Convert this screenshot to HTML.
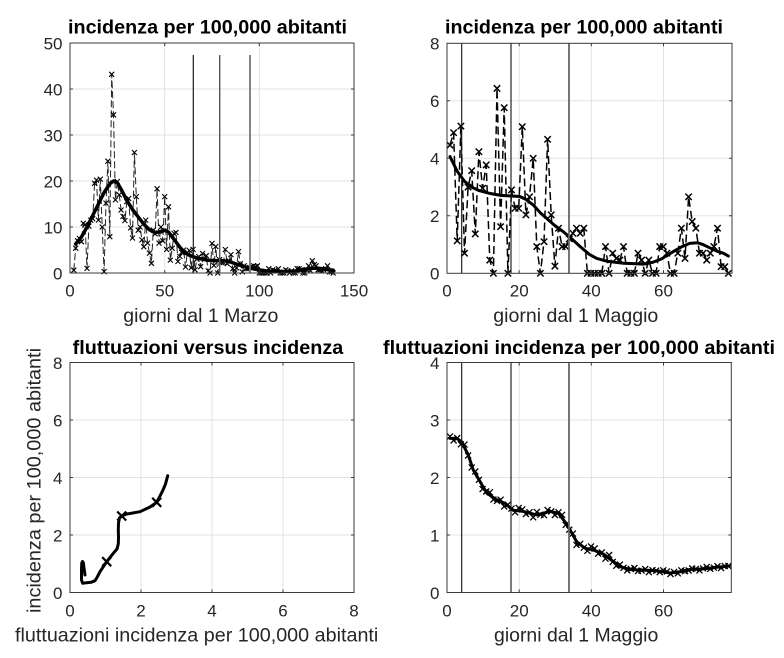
<!DOCTYPE html>
<html><head><meta charset="utf-8"><style>
html,body{margin:0;padding:0;background:#fff;}
svg{display:block;}
text{font-family:"Liberation Sans",Arial,Helvetica,sans-serif;}
.tk{font-size:17px;fill:#262626;}
.lb{font-size:19.5px;fill:#262626;}
.tt{font-size:19.5px;font-weight:bold;fill:#000;}
</style></head><body>
<svg width="784" height="658" viewBox="0 0 784 658" xmlns="http://www.w3.org/2000/svg">
<defs>
<marker id="m1" markerUnits="userSpaceOnUse" markerWidth="1" markerHeight="1" refX="0" refY="0" style="overflow:visible"><path d="M-2.5-2.5L2.5 2.5M-2.5 2.5L2.5-2.5" stroke="#000" stroke-width="1.1" fill="none" stroke-dasharray="none"/></marker>
<marker id="m2" markerUnits="userSpaceOnUse" markerWidth="1" markerHeight="1" refX="0" refY="0" style="overflow:visible"><path d="M-3.2-3.2L3.2 3.2M-3.2 3.2L3.2-3.2" stroke="#000" stroke-width="1.5" fill="none" stroke-dasharray="none"/></marker>
<marker id="m3" markerUnits="userSpaceOnUse" markerWidth="1" markerHeight="1" refX="0" refY="0" style="overflow:visible"><path d="M-3-3L3 3M-3 3L3-3" stroke="#000" stroke-width="1.3" fill="none" stroke-dasharray="none"/></marker>
</defs>
<rect width="784" height="658" fill="#fff"/>

<!-- ============ TOP LEFT ============ -->
<g stroke="#e3e3e3" stroke-width="1" fill="none">
<path d="M164.7,43V273M259.3,43V273M70,227H354M70,181H354M70,135H354M70,89H354"/>
</g>
<polyline fill="none" stroke="#222" stroke-width="1" stroke-dasharray="7 3" marker-start="url(#m1)" marker-mid="url(#m1)" marker-end="url(#m1)" points="73.8,270.2 75.7,248.2 77.6,240.8 79.5,238.5 81.4,241.7 83.3,223.3 85.1,224.7 87.0,268.4 88.9,226.1 90.8,220.1 92.7,218.7 94.6,183.3 96.5,180.1 98.4,220.1 100.3,179.2 102.2,227 104.1,271.6 106.0,203.1 107.9,161.2 109.8,236.7 111.7,74.3 113.5,114.8 115.4,199.9 117.3,181.5 119.2,194.8 121.1,210 123.0,216.4 124.9,220.6 126.8,201.7 128.7,198.5 130.6,227.9 132.5,238 134.4,152.5 136.3,196.6 138.2,230.2 140.1,227 141.9,239.9 143.8,246.8 145.7,220.1 147.6,243.1 149.5,253.2 151.4,263.3 153.3,230.2 155.2,233.9 157.1,188.8 159.0,243.1 160.9,227 162.8,240.8 164.7,196.6 166.6,249.5 168.5,206.8 170.3,260.1 172.2,248.2 174.1,233.4 176.0,232.5 177.9,261.5 179.8,256.4 181.7,252.3 183.6,250 185.5,267 187.4,252.5 189.3,250.5 191.2,267.8 193.1,249.4 195.0,269.8 196.9,259.2 198.8,256.6 200.6,266.7 202.5,253.5 204.4,259.4 206.3,255.7 208.2,270.9 210.1,273 212.0,243.4 213.9,265.5 215.8,246.5 217.7,273 219.6,259.7 221.5,262.6 223.4,262.6 225.3,249.5 227.2,263.7 229.0,260.8 230.9,254.6 232.8,268.7 234.7,273 236.6,267.9 238.5,251.6 240.4,263.7 242.3,271.9 244.2,265.8 246.1,268.7 248.0,268.7 249.9,267.5 251.8,266.6 253.7,265.8 255.6,266.6 257.4,265.8 259.3,273 261.2,273 263.1,273 265.0,273 266.9,273 268.8,268.7 270.7,273 272.6,269.8 274.5,270.6 276.4,270.9 278.3,268.7 280.2,273 282.1,273 283.9,273 285.8,269.8 287.7,270.9 289.6,273 291.5,270.9 293.4,273 295.3,273 297.2,268.7 299.1,268.7 301.0,269.8 302.9,273 304.8,273 306.7,269.8 308.6,265.8 310.5,270.6 312.3,260.8 314.2,264.7 316.1,265.8 318.0,269.8 319.9,269.8 321.8,270.9 323.7,269.8 325.6,268.7 327.5,265.8 329.4,271.9 331.3,271.9 333.2,273"/>
<polyline fill="none" stroke="#000" stroke-width="3.5" stroke-linejoin="round" stroke-linecap="round" points="75.7,244.0 81.4,237.1 87.0,227 92.7,215.5 98.4,204 104.1,192.5 109.8,183.8 113.5,181 117.3,182.8 121.1,189.3 126.8,200.3 132.5,209.5 138.2,216.9 143.8,224.2 149.5,229.8 155.2,232.5 160.9,231.6 164.7,230.2 168.5,232.1 174.1,239.4 179.8,247.2 185.5,253.2 191.2,256 197.8,258.3 208.2,260.2 216.9,260.6 223.9,260.7 230.9,262.1 237.7,264.5 246.6,267.2 255.4,269.3 264.3,270.6 269.6,271.2 278.3,271.4 288.7,271.5 295.3,270.9 304.2,269.5 312.9,268.2 317.1,268.1 323.3,268.9 330.5,269.8 333.2,270.2"/>
<line x1="193.3" y1="55" x2="193.3" y2="273" stroke="#1a1a1a" stroke-width="1.2"/>
<line x1="219.7" y1="55" x2="219.7" y2="273" stroke="#555" stroke-width="1.4"/>
<line x1="250" y1="55" x2="250" y2="273" stroke="#777" stroke-width="1.8"/>
<rect x="70" y="43" width="284" height="230" fill="none" stroke="#3a3a3a" stroke-width="1"/>
<path stroke="#3a3a3a" stroke-width="1" fill="none" d="M164.7,273v-3M259.3,273v-3M164.7,43v3M259.3,43v3M70,227h3M70,181h3M70,135h3M70,89h3M354,227h-3M354,181h-3M354,135h-3M354,89h-3"/>
<g class="tk" text-anchor="end">
<text x="62.5" y="279.3">0</text><text x="62.5" y="233.3">10</text><text x="62.5" y="187.3">20</text><text x="62.5" y="141.3">30</text><text x="62.5" y="95.3">40</text><text x="62.5" y="49.3">50</text>
</g>
<g class="tk" text-anchor="middle">
<text x="70" y="296.7">0</text><text x="164.7" y="296.7">50</text><text x="259.3" y="296.7">100</text><text x="354" y="296.7">150</text>
</g>
<text class="tt" x="68" y="33.3" textLength="279" lengthAdjust="spacingAndGlyphs">incidenza per 100,000 abitanti</text>
<text class="lb" x="123.3" y="322" textLength="155" lengthAdjust="spacingAndGlyphs">giorni dal 1 Marzo</text>

<!-- ============ TOP RIGHT ============ -->
<g stroke="#e3e3e3" stroke-width="1" fill="none">
<path d="M519.2,43.3V273.3M591.3,43.3V273.3M663.5,43.3V273.3M447,215.8H732M447,158.3H732M447,100.8H732"/>
</g>
<polyline fill="none" stroke="#000" stroke-width="1.5" stroke-dasharray="8 4" marker-start="url(#m2)" marker-mid="url(#m2)" marker-end="url(#m2)" points="450.0,145.1 453.6,132.7 457.2,240.8 460.9,126.1 464.5,253.2 468.1,187.1 471.7,170.7 475.3,233.9 478.9,151.7 482.6,188.2 486.2,164.9 489.8,260.1 493.4,273.3 497.0,88.4 500.6,226.7 504.2,107.7 507.9,273.3 511.5,189.9 515.1,208.3 518.7,208.3 522.3,126.7 525.9,214.9 529.5,196.8 533.2,158.3 536.8,246.6 540.4,273.3 544.0,241.7 547.6,139.3 551.2,214.9 554.9,266.1 558.5,228.2 562.1,246.6 565.7,246.6 569.3,238.8 572.9,233.3 576.5,228.2 580.2,233.3 583.8,228.2 587.4,273.3 591.0,273.3 594.6,273.3 598.2,273.3 601.8,273.3 605.5,246.6 609.1,273.3 612.7,253.2 616.3,258.4 619.9,260.1 623.5,246.6 627.2,273.3 630.8,273.3 634.4,273.3 638.0,253.2 641.6,260.1 645.2,273.3 648.8,260.1 652.5,273.3 656.1,273.3 659.7,246.6 663.3,246.6 666.9,253.2 670.5,273.3 674.1,273.3 677.8,253.2 681.4,228.2 685.0,258.4 688.6,196.8 692.2,221.5 695.8,228.2 699.5,253.2 703.1,253.2 706.7,260.1 710.3,253.2 713.9,246.6 717.5,228.2 721.1,266.7 724.8,266.7 728.4,273.3"/>
<polyline fill="none" stroke="#000" stroke-width="3" stroke-linejoin="round" stroke-linecap="round" points="450.0,156.6 457.2,171.2 464.5,181.3 471.7,187.1 478.9,190.5 489.8,193.4 500.6,195.4 511.5,196.0 519.8,196.5 525.9,199.4 533.2,204.9 540.4,212.9 547.6,219.2 554.9,225.6 563.2,231.6 572.9,239.9 580.2,246.6 589.2,254.3 596.8,258.4 606.9,261.2 623.5,263.2 643.4,264.1 652.5,262.4 661.5,258.9 673.1,251.7 681.4,246.9 689.7,243.4 697.6,242.8 703.1,244.6 709.6,247.7 717.5,251.4 723.3,253.2 728.4,256.1"/>
<line x1="461.7" y1="43.3" x2="461.7" y2="273.3" stroke="#111" stroke-width="1.1"/>
<line x1="511" y1="43.3" x2="511" y2="273.3" stroke="#111" stroke-width="1.1"/>
<line x1="569" y1="43.3" x2="569" y2="273.3" stroke="#666" stroke-width="1.8"/>
<rect x="447" y="43.3" width="285" height="230" fill="none" stroke="#3a3a3a" stroke-width="1"/>
<path stroke="#3a3a3a" stroke-width="1" fill="none" d="M519.2,273.3v-3M591.3,273.3v-3M663.5,273.3v-3M519.2,43.3v3M591.3,43.3v3M663.5,43.3v3M447,215.8h3M447,158.3h3M447,100.8h3M732,215.8h-3M732,158.3h-3M732,100.8h-3"/>
<g class="tk" text-anchor="end">
<text x="439.5" y="279.6">0</text><text x="439.5" y="222.1">2</text><text x="439.5" y="164.6">4</text><text x="439.5" y="107.1">6</text><text x="439.5" y="49.6">8</text>
</g>
<g class="tk" text-anchor="middle">
<text x="447" y="296.7">0</text><text x="519.2" y="296.7">20</text><text x="591.3" y="296.7">40</text><text x="663.5" y="296.7">60</text>
</g>
<text class="tt" x="445" y="33.3" textLength="278" lengthAdjust="spacingAndGlyphs">incidenza per 100,000 abitanti</text>
<text class="lb" x="493.3" y="322" textLength="165" lengthAdjust="spacingAndGlyphs">giorni dal 1 Maggio</text>

<!-- ============ BOTTOM LEFT ============ -->
<g stroke="#e3e3e3" stroke-width="1" fill="none">
<path d="M141,362.5V592.5M212,362.5V592.5M283,362.5V592.5M70,535H354M70,477.5H354M70,420H354"/>
</g>
<polyline fill="none" stroke="#000" stroke-width="3" stroke-linejoin="round" stroke-linecap="round" points="167.7,475.7 165.5,484 163,490 159.5,497 156.7,502.3 150,507 140,511.7 130,513.5 126.7,514 121.7,516 119.5,518 118.5,523 118.3,530 118.5,537 118.3,544 117,549 113.3,553.3 106.7,561.7 100,571.7 97,577.5 95,580.7 91,582.3 86.7,582.7 82.7,583.3 81.5,580 81.5,570 81.7,563.3 82.5,561.5 83.3,562.5 84,568 85,575"/>
<path stroke="#000" stroke-width="2.2" fill="none" d="M152.2,497.8l9,9M152.2,506.8l9,-9M117.2,511.5l9,9M117.2,520.5l9,-9M102.2,557.2l9,9M102.2,566.2l9,-9"/>
<rect x="70" y="362.5" width="284" height="230" fill="none" stroke="#3a3a3a" stroke-width="1"/>
<path stroke="#3a3a3a" stroke-width="1" fill="none" d="M141,592.5v-3M212,592.5v-3M283,592.5v-3M141,362.5v3M212,362.5v3M283,362.5v3M70,535h3M70,477.5h3M70,420h3M354,535h-3M354,477.5h-3M354,420h-3"/>
<g class="tk" text-anchor="end">
<text x="62.5" y="598.8">0</text><text x="62.5" y="541.3">2</text><text x="62.5" y="483.8">4</text><text x="62.5" y="426.3">6</text><text x="62.5" y="368.8">8</text>
</g>
<g class="tk" text-anchor="middle">
<text x="70" y="616.5">0</text><text x="141" y="616.5">2</text><text x="212" y="616.5">4</text><text x="283" y="616.5">6</text><text x="354" y="616.5">8</text>
</g>
<text class="tt" x="72.7" y="354" textLength="270.6" lengthAdjust="spacingAndGlyphs">fluttuazioni versus incidenza</text>
<text class="lb" x="15" y="641.5" textLength="363.3" lengthAdjust="spacingAndGlyphs">fluttuazioni incidenza per 100,000 abitanti</text>
<text class="lb" transform="translate(40.5,613) rotate(-90)" x="0" y="0" textLength="265" lengthAdjust="spacingAndGlyphs">incidenza per 100,000 abitanti</text>

<!-- ============ BOTTOM RIGHT ============ -->
<g stroke="#e3e3e3" stroke-width="1" fill="none">
<path d="M519.2,362.5V592.5M591.3,362.5V592.5M663.5,362.5V592.5M447,535H731.5M447,477.5H731.5M447,420H731.5"/>
</g>
<polyline fill="none" stroke="#000" stroke-width="1" marker-start="url(#m3)" marker-mid="url(#m3)" marker-end="url(#m3)" points="450.0,436.4 453.6,440.4 457.2,438.0 460.9,444.3 464.5,444.6 468.1,455.5 471.7,467.4 475.3,471.5 478.9,479.8 482.6,489.1 486.2,491.5 489.8,492.3 493.4,499.6 497.0,500.9 500.6,499.7 504.2,506.4 507.9,504.7 511.5,508.6 515.1,512.3 518.7,507.9 522.3,509.4 525.9,514.0 529.5,512.2 533.2,517.3 536.8,511.9 540.4,514.7 544.0,515.2 547.6,510.0 551.2,511.4 554.9,515.0 558.5,512.2 562.1,514.8 565.7,524.9 569.3,529.7 572.9,533.6 576.5,544.9 580.2,543.8 583.8,547.7 587.4,550.8 591.0,546.4 594.6,548.5 598.2,553.7 601.8,552.4 605.5,558.7 609.1,555.0 612.7,561.9 616.3,565.8 619.9,564.6 623.5,567.8 627.2,570.4 630.8,569.0 634.4,568.0 638.0,571.1 641.6,570.6 645.2,569.1 648.8,572.2 652.5,570.2 656.1,570.7 659.7,572.2 663.3,570.3 666.9,571.4 670.5,574.0 674.1,571.9 677.8,573.3 681.4,570.3 685.0,571.2 688.6,570.5 692.2,568.5 695.8,568.9 699.5,570.4 703.1,568.4 706.7,566.9 710.3,568.8 713.9,567.7 717.5,566.2 721.1,568.1 724.8,566.1 728.4,566.0"/>
<polyline fill="none" stroke="#000" stroke-width="3" stroke-linejoin="round" stroke-linecap="round" points="450,438.4 456.7,438.4 461.7,441.9 468.3,455.1 473.3,470 480,481.5 486.7,493 496.7,499.9 505,503.4 513.3,510.3 523.3,511.4 536.7,514.9 543.3,513.2 550,511.4 558.3,513.2 565,521.8 570,529.8 576.7,541.9 585,548.2 593.3,550 603.3,554 613.3,561.5 620,566.6 630,569.5 643.3,570.1 656.7,570.7 670,573 680,571.8 690,569.5 703.3,568.9 716.7,567.2 729.3,566"/>
<line x1="461.7" y1="362.5" x2="461.7" y2="592.5" stroke="#111" stroke-width="1.1"/>
<line x1="511" y1="362.5" x2="511" y2="592.5" stroke="#111" stroke-width="1.1"/>
<line x1="569" y1="362.5" x2="569" y2="592.5" stroke="#666" stroke-width="1.8"/>
<rect x="447" y="362.5" width="284.3" height="230" fill="none" stroke="#3a3a3a" stroke-width="1"/>
<path stroke="#3a3a3a" stroke-width="1" fill="none" d="M519.2,592.5v-3M591.3,592.5v-3M663.5,592.5v-3M519.2,362.5v3M591.3,362.5v3M663.5,362.5v3M447,535h3M447,477.5h3M447,420h3M731.3,535h-3M731.3,477.5h-3M731.3,420h-3"/>
<g class="tk" text-anchor="end">
<text x="439.5" y="598.8">0</text><text x="439.5" y="541.3">1</text><text x="439.5" y="483.8">2</text><text x="439.5" y="426.3">3</text><text x="439.5" y="368.8">4</text>
</g>
<g class="tk" text-anchor="middle">
<text x="447" y="616.5">0</text><text x="519.2" y="616.5">20</text><text x="591.3" y="616.5">40</text><text x="663.5" y="616.5">60</text>
</g>
<text class="tt" x="383" y="354" textLength="392" lengthAdjust="spacingAndGlyphs">fluttuazioni incidenza per 100,000 abitanti</text>
<text class="lb" x="494" y="641.5" textLength="164.3" lengthAdjust="spacingAndGlyphs">giorni dal 1 Maggio</text>
</svg>
</body></html>
